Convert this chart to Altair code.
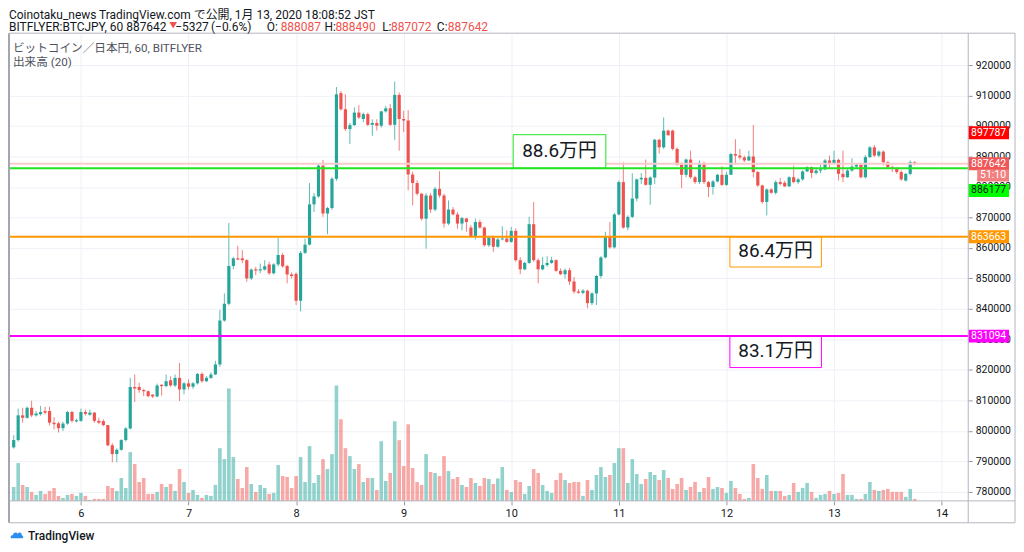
import altair as alt
import pandas as pd

# ---------------- data (prices in thousand yen, hourly candles from 2020-01-05 09:00) ----------------
opens_k = [
794.6,797.0,805.1,804.3,807.6,805.1,805.5,806.5,806.5,802.7,802.5,800.9,802.4,806.2,803.1,
803.3,806.2,805.3,806.0,803.3,803.2,801.9,795.3,792.4,793.8,797.0,800.8,814.4,814.4,813.4,
813.0,811.9,811.3,815.1,814.7,816.6,814.9,817.4,813.6,815.6,814.5,815.6,818.7,816.3,817.4,
818.5,821.8,836.2,841.7,854.1,856.6,856.6,856.0,850.0,853.0,852.6,852.9,854.6,851.7,854.6,
857.7,854.1,851.3,851.5,842.7,858.4,861.1,874.3,876.9,887.0,871.3,873.1,882.7,910.8,905.5,
899.0,900.3,904.4,902.3,903.9,900.4,901.0,900.1,904.8,905.8,900.4,910.2,902.3,901.8,884.1,
881.3,877.8,869.6,877.2,872.6,879.4,877.2,868.0,872.6,871.0,868.0,869.7,866.7,863.9,868.5,
866.7,860.9,863.4,860.4,862.8,863.1,862.0,865.6,856.0,853.0,855.1,867.8,856.0,853.0,854.4,
855.1,856.0,852.5,851.4,852.7,849.0,845.7,845.3,846.0,841.9,845.1,850.8,856.9,863.9,860.2,
871.0,881.6,866.7,870.2,876.2,882.5,883.0,880.7,883.1,895.5,893.0,898.5,898.5,892.5,887.3,
884.0,889.0,883.2,881.6,887.9,881.6,880.0,881.8,884.0,880.7,884.0,890.8,890.3,889.7,888.7,
890.0,884.9,880.5,875.1,879.2,878.1,881.6,881.4,880.2,883.2,881.6,882.5,885.1,886.5,884.6,
885.4,885.8,888.7,887.9,888.9,884.3,883.2,885.4,886.7,887.3,883.2,889.8,893.0,890.3,891.6,
888.1,886.5,885.9,884.9,882.1,884.3,888.087]
highs_k = [
798.6,807.3,807.6,808.0,809.9,806.5,808.2,807.9,807.9,804.5,803.0,803.0,806.6,806.6,804.0,
807.3,807.0,807.0,806.2,804.3,803.8,802.0,796.0,794.3,797.3,801.2,817.4,818.5,815.8,813.8,
813.3,812.0,815.5,815.3,818.5,817.9,818.5,822.3,816.0,816.9,816.0,819.0,819.2,818.0,819.2,
823.0,839.7,845.1,868.2,857.1,860.7,859.3,856.3,853.3,853.8,854.9,856.0,855.5,855.0,863.3,
858.4,854.5,852.0,852.0,859.0,863.1,881.3,878.0,887.6,888.9,873.5,883.2,912.8,911.5,910.4,
901.0,906.1,906.8,904.4,904.4,902.2,902.2,905.0,906.6,907.2,914.6,911.0,905.0,905.2,885.0,
882.2,878.0,878.0,878.0,880.0,885.2,877.8,875.6,873.4,871.8,870.2,869.7,867.5,869.6,869.3,
867.0,864.0,864.0,863.4,867.1,865.8,866.9,866.4,857.0,855.5,870.2,875.1,856.6,857.1,857.3,
857.1,856.3,853.3,853.3,853.5,850.5,846.5,846.5,846.3,845.5,851.2,857.3,865.3,868.5,871.5,
882.1,888.1,870.7,884.5,882.8,884.6,889.0,883.5,895.8,895.8,902.8,898.8,898.8,893.0,888.0,
889.3,891.9,883.7,888.7,888.2,882.0,882.3,884.3,886.8,885.0,891.2,895.7,892.5,890.3,891.9,
900.3,885.2,880.8,879.5,879.6,882.2,883.0,882.0,883.5,887.0,883.0,885.5,886.8,886.8,886.0,
887.3,889.2,890.3,891.9,889.3,891.9,885.9,889.4,887.6,887.6,890.5,893.4,893.8,892.0,892.0,
888.4,887.0,886.5,885.5,884.6,888.7,888.490]
lows_k = [
794.2,796.5,802.7,804.0,804.5,804.7,805.0,805.4,801.8,800.5,799.5,800.0,802.0,802.7,802.8,
803.0,805.0,805.0,802.7,802.2,801.5,794.9,789.7,789.7,793.5,796.5,800.5,809.5,812.5,811.4,
811.0,810.8,811.0,811.6,814.3,814.5,814.4,809.8,812.0,813.6,813.8,815.2,815.8,816.0,817.0,
818.3,821.0,835.8,841.2,853.0,856.0,855.0,848.9,849.5,851.1,851.7,852.6,851.2,851.3,854.0,
853.5,848.4,850.0,841.3,839.2,858.0,860.8,871.8,876.5,870.2,864.5,872.5,882.0,905.0,898.4,
894.1,900.0,902.3,901.2,900.0,896.8,898.5,899.5,904.4,900.0,895.4,891.9,898.0,878.9,874.0,
877.2,869.0,859.8,871.5,872.0,876.5,866.7,867.5,870.7,866.3,865.8,865.3,863.4,862.8,866.3,
860.4,860.3,858.7,860.1,862.5,861.7,861.7,855.5,851.4,852.7,854.8,855.5,848.4,852.7,853.8,
854.8,852.2,851.1,850.0,847.9,845.0,845.0,844.8,840.2,841.3,841.3,850.0,856.6,859.8,859.8,
870.7,866.3,865.8,869.8,875.3,881.0,880.5,874.2,881.0,891.0,892.5,896.8,892.0,887.0,879.6,
883.2,882.7,881.0,881.0,881.0,876.7,877.5,881.5,880.3,880.3,884.0,887.3,889.0,888.2,888.5,
883.2,880.0,874.5,870.7,877.8,877.5,880.5,880.0,880.0,881.2,881.0,882.0,884.9,882.9,884.0,
884.5,885.5,886.0,887.5,882.1,881.6,883.0,885.0,886.0,882.8,882.8,889.5,889.8,889.8,887.0,
886.0,884.9,884.3,882.1,881.8,883.8,887.072]
closes_k = [
797.0,805.1,804.3,807.6,805.1,805.7,806.2,806.0,802.7,802.2,800.9,802.4,806.2,803.3,803.5,
806.2,805.6,806.0,803.3,802.7,801.9,795.3,792.4,793.8,797.0,800.8,814.4,813.9,813.4,813.0,
811.4,811.3,814.9,814.7,816.3,814.9,817.4,813.6,815.6,814.5,815.6,818.7,816.3,817.4,818.5,
821.8,836.2,841.7,854.1,856.6,856.2,856.0,850.0,852.9,852.6,853.0,854.0,851.7,854.6,857.7,
854.0,851.3,850.8,842.7,858.4,861.1,874.3,876.9,887.0,871.3,873.1,882.7,910.4,905.5,899.0,
900.3,904.4,902.8,903.9,900.4,901.0,900.1,904.8,905.8,900.4,910.2,902.3,901.8,884.1,881.3,
877.8,869.6,877.2,872.6,879.4,877.2,868.0,872.6,871.0,868.0,869.8,868.5,863.9,868.5,866.7,
860.9,863.4,860.4,862.8,863.1,862.0,865.6,856.0,853.0,855.1,867.8,856.0,853.0,854.4,855.1,
856.0,852.5,851.4,852.7,849.0,845.7,845.3,846.0,841.9,845.1,850.8,856.9,863.9,860.2,871.0,
881.6,866.7,870.2,876.2,882.5,883.0,880.7,883.1,895.5,893.0,898.5,897.0,892.5,887.3,884.0,
889.0,883.2,881.6,887.9,881.6,880.0,881.8,884.0,880.7,884.0,890.8,890.3,889.7,888.7,890.0,
884.9,880.5,875.1,879.2,878.1,881.6,881.0,880.2,883.2,881.6,882.5,885.1,886.5,884.6,885.4,
885.8,888.7,887.9,888.9,884.3,883.2,885.4,886.7,887.3,883.2,889.8,893.0,890.3,891.6,888.1,
886.5,885.9,884.9,882.5,884.3,888.1,887.642]
volumes = [
280,760,320,280,180,120,200,140,200,260,100,60,120,140,100,
160,100,20,40,40,40,300,260,200,460,260,980,740,380,460,
140,140,180,340,280,340,200,640,380,160,220,120,60,120,100,
320,1060,840,2260,880,440,260,680,340,180,320,260,140,160,720,
500,480,260,500,880,380,1100,360,520,840,640,940,2320,1640,1060,
900,640,740,380,460,460,220,1200,400,560,1600,1220,700,1540,660,
380,320,940,580,560,500,900,600,440,480,320,280,460,360,300,
460,440,340,450,680,220,180,420,380,140,300,640,560,320,200,
160,420,560,420,360,380,380,100,420,220,520,680,480,520,760,
1060,1060,360,840,540,340,440,580,520,420,620,460,240,340,460,
220,280,380,180,260,480,240,280,260,160,400,260,140,40,60,
740,460,240,520,200,200,200,100,120,360,180,260,360,180,60,
120,140,200,140,160,540,120,120,40,40,140,380,220,200,220,
240,180,180,180,80,240,40]

day_ticks = [6, 7, 8, 9, 10, 11, 12, 13, 14]
price_ticks = [780000, 790000, 800000, 810000, 820000, 830000, 840000, 850000,
               860000, 870000, 880000, 890000, 900000, 910000, 920000]

level_prices = [886177, 863663, 831094]
level_colors = ["#22e622", "#ff9800", "#ff00ff"]
level_texts = ["88.6万円", "86.4万円", "83.1万円"]
box_x1 = [10.018, 12.032, 12.032]
box_x2 = [10.879, 12.883, 12.883]
box_y1 = [897150, 863663, 831094]
box_y2 = [886177, 853750, 820780]
box_tx = [10.449, 12.457, 12.457]
box_ty = [891700, 858900, 826300]

# price tags on the axis; the ones that would collide are stacked (pixel offsets)
tag_prices = [897787, 887642, 863663, 831094]
tag_bg = ["#ff0000", "#f05757", "#ff9800", "#ff00ff"]
tag_fg = ["#ffffff", "#ffffff", "#ffffff", "#ffffff"]
green_tag = "886177"
countdown_text = "51:10"

UP, DOWN = "#26a69a", "#ef5350"
FONT = "Roboto, 'Noto Sans CJK JP', sans-serif"
W, H = 964, 470

n = len(closes_k)
df = pd.DataFrame({
    "t": [5 + (9 + i) / 24 for i in range(n)],
    "open": [v * 1000 for v in opens_k],
    "high": [v * 1000 for v in highs_k],
    "low": [v * 1000 for v in lows_k],
    "close": [v * 1000 for v in closes_k],
    "volume": volumes,
})
df["dir"] = ["up" if c >= o else "down" for o, c in zip(df["open"], df["close"])]

xscale = alt.Scale(domain=[5.3776, 14.2014], nice=False, zero=False)
xaxis = alt.Axis(values=day_ticks, format="d", grid=True, gridColor="#eef1f7", domain=False,
                 tickColor="#9598a1", tickSize=4, labelColor="#131722", labelFontSize=11,
                 labelFont=FONT, labelPadding=3, title=None)
yscale = alt.Scale(domain=[777050, 930440], nice=False, zero=False)
yaxis = alt.Axis(orient="right", values=price_ticks, format="d", grid=True, gridColor="#eef1f7",
                 domain=False, tickColor="#9598a1", tickSize=4, labelColor="#131722",
                 labelFontSize=10.5, labelFont=FONT, labelPadding=3, title=None)


def X(f):
    return alt.X(f"{f}:Q", scale=xscale, axis=xaxis)


def Y(f):
    return alt.Y(f"{f}:Q", scale=yscale, axis=yaxis)


color = alt.Color("dir:N", scale=alt.Scale(domain=["up", "down"], range=[UP, DOWN]), legend=None)

vol = alt.Chart(df).mark_bar(size=3.6, opacity=0.5).encode(
    x=X("t"),
    y=alt.Y("volume:Q", scale=alt.Scale(domain=[0, 9400], nice=False, zero=True), axis=None),
    color=color,
)

wicks = alt.Chart(df).mark_rule(strokeWidth=1, opacity=0.75).encode(
    x=X("t"), y=Y("low"), y2=alt.Y2("high"), color=color)
bodies = alt.Chart(df).mark_bar(size=3.2).encode(
    x=X("t"), y=Y("open"), y2=alt.Y2("close"), color=color)

last_line = alt.Chart(pd.DataFrame({"p": [887642]})).mark_rule(
    color="#f8cccc", strokeWidth=2).encode(y=Y("p"))

boxes_df = pd.DataFrame({"x1": box_x1, "x2": box_x2, "y1": box_y1, "y2": box_y2,
                         "tx": box_tx, "ty": box_ty, "c": level_colors, "s": level_texts})
boxes = alt.Chart(boxes_df).mark_rect(fill="white", strokeWidth=1).encode(
    x=X("x1"), x2=alt.X2("x2"), y=Y("y1"), y2=alt.Y2("y2"),
    stroke=alt.Stroke("c:N", scale=None))
box_text = alt.Chart(boxes_df).mark_text(fontSize=19, font=FONT, color="#131722").encode(
    x=X("tx"), y=Y("ty"), text="s:N")

levels = alt.Chart(pd.DataFrame({"p": level_prices, "c": level_colors})).mark_rule(
    strokeWidth=2).encode(y=Y("p"), color=alt.Color("c:N", scale=None))

tags_df = pd.DataFrame({"p": tag_prices, "bg": tag_bg, "fg": tag_fg,
                        "s": [str(v) for v in tag_prices]})
tags = alt.Chart(tags_df).mark_rule(strokeWidth=13, strokeCap="butt").encode(
    y=Y("p"), x=alt.value(964), x2=alt.value(1005), color=alt.Color("bg:N", scale=None))
tag_text = alt.Chart(tags_df).mark_text(fontSize=10.5, font=FONT).encode(
    y=Y("p"), x=alt.value(984.5), text="s:N", color=alt.Color("fg:N", scale=None))

one = pd.DataFrame({"a": [0]})


def txt(s, x, y, col="#131722", size=12, align="left", weight="normal", font=FONT):
    return alt.Chart(pd.DataFrame({"s": [s]})).mark_text(
        align=align, baseline="middle", fontSize=size, font=font, color=col,
        fontWeight=weight).encode(text="s:N", x=alt.value(x), y=alt.value(y))


def rule(x, x2, y, y2, col="#b2b5be", w=1):
    return alt.Chart(one).mark_rule(color=col, strokeWidth=w).encode(
        x=alt.value(x), x2=alt.value(x2), y=alt.value(y), y2=alt.value(y2))


countdown_bg = rule(973, 1005, 143, 143, col="#f28080", w=12)
countdown = txt(countdown_text, 989, 143, col="#ffffff", size=10.5, align="center")
green_bg = rule(964, 1005, 158, 158, col="#00ff00", w=13)
green_txt = txt(green_tag, 984.5, 158, col="#131722", size=10.5, align="center")

frame = [
    rule(0, 0, 0, 492, col="#a3a6af", w=2),
    rule(0, 1011, 0, 0),
    rule(1011, 1011, 0, 492),
    rule(0, 1011, 492, 492),
    rule(964, 964, 0, 492),
    rule(0, 1011, 470, 470),
]

RED = "#f0534f"
L1, L2 = -18, -6.5
header = [
    txt("Coinotaku_news TradingView.com で公開, 1月 13, 2020 18:08:52 JST", 0, L1, size=12),
    txt("BITFLYER:BTCJPY, 60 887642", 0, L2),
    txt("▼", 161, L2 - 1, col=RED, size=8),
    txt("−5327", 167, L2),
    txt("(−0.6%)", 203, L2),
    txt("O:", 259, L2),
    txt("888087", 273, L2, col=RED),
    txt("H:", 317, L2),
    txt("888490", 328, L2, col=RED),
    txt("L:", 375, L2),
    txt("887072", 384, L2, col=RED),
    txt("C:", 430, L2),
    txt("887642", 441, L2, col=RED),
    txt("ビットコイン／日本円, 60, BITFLYER", 4, 14.5, col="#50535e", size=11.7),
    txt("出来高 (20)", 4, 29, col="#50535e", size=11.7),
]

cloud = "M-1,0.5 C-1.3,0.5 -1.3,-0.15 -0.75,-0.15 C-0.75,-0.7 -0.05,-0.8 0.15,-0.35 C0.35,-0.85 1.05,-0.65 0.9,-0.1 C1.3,-0.1 1.3,0.5 0.95,0.5 Z"
logo_icon = alt.Chart(one).mark_point(shape=cloud, filled=True, color="#2b8ef0", size=110,
                                      opacity=1).encode(x=alt.value(8), y=alt.value(505))
logo_text = txt("TradingView", 19, 505, size=12, weight=500)

price_layer = alt.layer(
    wicks, bodies, last_line, boxes, levels, box_text, tags, tag_text,
    countdown_bg, countdown, green_bg, green_txt, *frame, *header, logo_icon, logo_text,
)

chart = alt.layer(vol, price_layer).resolve_scale(y="independent").properties(
    width=W, height=H, padding=0, background="white"
).configure_view(strokeWidth=0)

chart.save("out.html", embed_options={"renderer": "svg", "actions": False})
